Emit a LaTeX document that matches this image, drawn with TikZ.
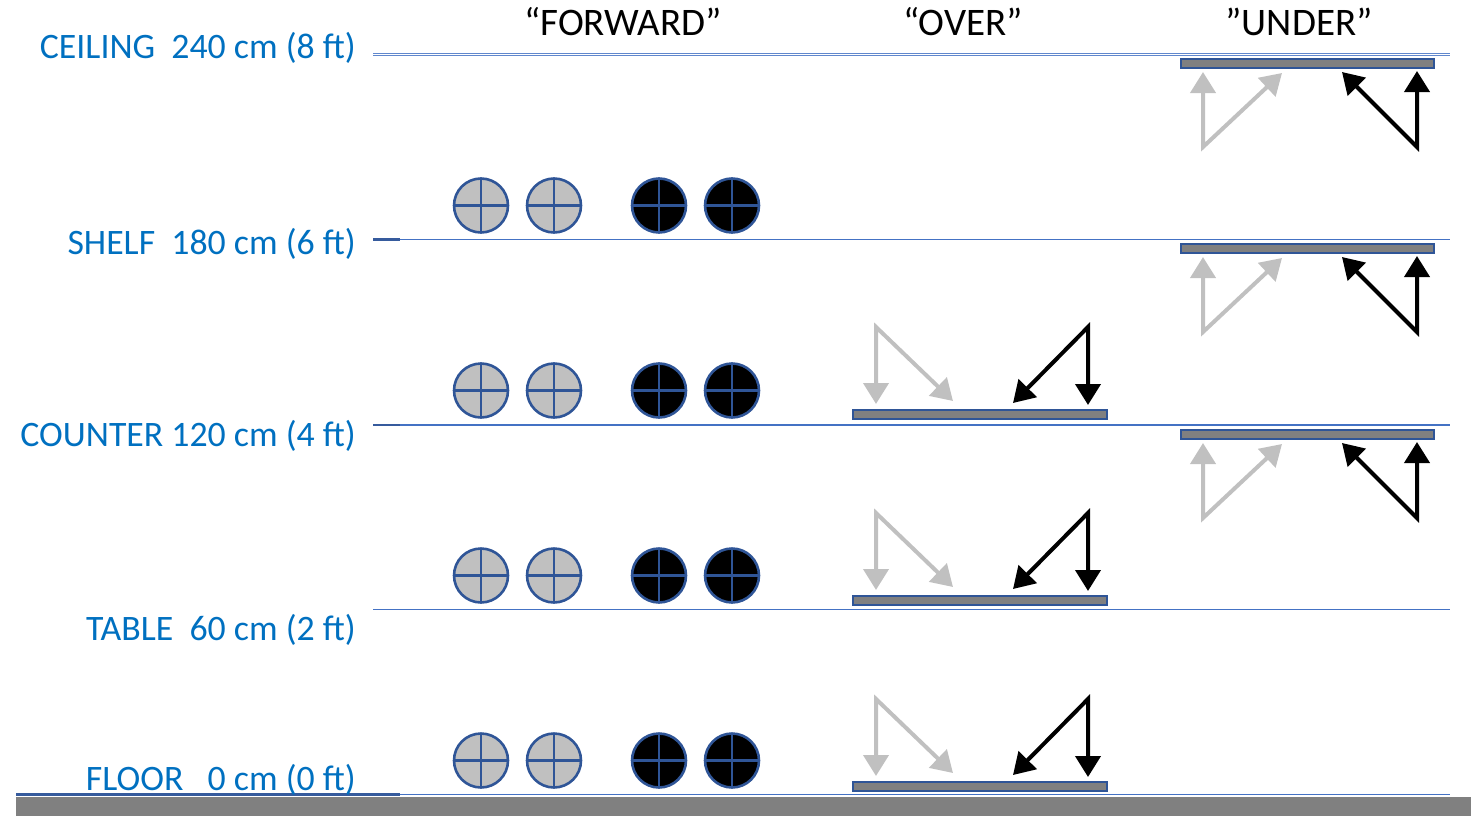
\documentclass[tikz,border=0pt]{standalone}
\usepackage{fontspec}
\setmainfont{Carlito}
\usetikzlibrary{arrows.meta}
\definecolor{lbl}{HTML}{0070C0}
\definecolor{lvl}{HTML}{4472C4}
\definecolor{edge}{HTML}{2F5597}
\definecolor{lgray}{HTML}{C0C0C0}
\definecolor{barfill}{HTML}{808080}
\tikzset{
  lbltext/.style={text=lbl, font=\fontsize{35.8}{40}\selectfont, anchor=base east, inner sep=0pt},
  head/.style={font=\fontsize{39}{42}\selectfont, anchor=base, inner sep=0pt},
  level/.style={draw=lvl, line width=1.6pt},
  stub/.style={draw=lvl!80!black, line width=2.2pt},
  disc/.style={circle, draw=edge, line width=2.6pt, minimum size=54pt, inner sep=0pt, outer sep=0pt},
  cross/.style={draw=edge, line width=2.6pt},
  plat/.style={draw=edge, fill=barfill, line width=2pt},
  garrow/.style={draw=lgray, line width=4pt, line join=miter, {Triangle[width=25pt,length=21pt]}-{Triangle[width=25pt,length=21pt]}},
  karrow/.style={draw=black, line width=4pt, line join=miter, {Triangle[width=25pt,length=21pt]}-{Triangle[width=25pt,length=21pt]}}
}
\begin{document}
\begin{tikzpicture}[x=1pt,y=-1pt]
\useasboundingbox (0,0) rectangle (1471,816);
% floor bar
\fill[barfill] (16,797) rectangle (1471,816);
% level lines
\coordinate (c1) at (373,53.3); \coordinate (c2) at (1450,53.3);
\coordinate (c3) at (373,55.7); \coordinate (c4) at (1450,55.7);
\draw[draw=lvl!85, line width=1.2pt] (c1) -- (c2);
\draw[draw=lvl!85, line width=1.2pt] (c3) -- (c4);
\foreach \n/\y in {shelf/239.5, counter/425, table/609.5}{
  \coordinate (\n L) at (373,\y); \coordinate (\n R) at (1450,\y);
  \coordinate (\n S) at (400,\y);
  \draw[level] (\n L) -- (\n R);
}
\draw[stub] (shelfL) -- (shelfS);
\draw[stub] (counterL) -- (counterS);
\coordinate (floorL) at (16,794.5); \coordinate (floorS) at (400,794.5); \coordinate (floorR) at (1450,794.5);
\draw[level] (floorL) -- (floorR);
\draw[stub] (floorL) -- (floorS);
% labels
\node[lbltext] (lceil) at (356,59) {CEILING\ \ 240 cm (8 ft)};
\node[lbltext] (lshelf) at (356,254.5) {SHELF\ \ 180 cm (6 ft)};
\node[lbltext] (lcount) at (356,446.5) {COUNTER 120 cm (4 ft)};
\node[lbltext] (ltable) at (356,640.5) {TABLE\ \ 60 cm (2 ft)};
\node[lbltext] (lfloor) at (356,790) {FLOOR\ \ \ 0 cm (0 ft)};
% headings
\node[head] (hfwd) at (623,36) {“FORWARD”};
\node[head] (hover) at (963,36) {“OVER”};
\node[head] (hunder) at (1299,36) {”UNDER”};
% discs
\foreach \r/\y in {1/205.5, 2/390.5, 3/575.5, 4/760.5}{
  \foreach \c/\x/\f in {a/481/lgray, b/554/lgray, c/659/black, d/732/black}{
    \node[disc, fill=\f] (d\r\c) at (\x,\y) {};
    \draw[cross] (d\r\c.north) -- (d\r\c.south);
    \draw[cross] (d\r\c.west) -- (d\r\c.east);
  }
}
% OVER platforms and arrows
\foreach \k/\dy in {1/0, 2/186, 3/372}{
  \node[plat, rectangle, minimum width=254pt, minimum height=9pt, inner sep=0pt, anchor=north west] (op\k) at (852,409+\dy) {};
  \coordinate (og\k t) at (876,327+\dy);
  \coordinate (og\k v) at (876,404+\dy);
  \coordinate (og\k d) at (953,401+\dy);
  \draw[garrow] (og\k v) -- (og\k t) -- (og\k d);
  \coordinate (ok\k t) at (1088,327+\dy);
  \coordinate (ok\k v) at (1088,405+\dy);
  \coordinate (ok\k d) at (1013,403+\dy);
  \draw[karrow] (ok\k v) -- (ok\k t) -- (ok\k d);
}
% UNDER platforms and arrows
\foreach \k/\dy in {1/0, 2/185, 3/371}{
  \node[plat, rectangle, minimum width=253pt, minimum height=9pt, inner sep=0pt, anchor=north west] (up\k) at (1180,58+\dy) {};
  \coordinate (ug\k b) at (1203,147+\dy);
  \coordinate (ug\k v) at (1203,72+\dy);
  \coordinate (ug\k d) at (1282,73+\dy);
  \draw[garrow] (ug\k v) -- (ug\k b) -- (ug\k d);
  \coordinate (uk\k b) at (1417,147+\dy);
  \coordinate (uk\k v) at (1417,71+\dy);
  \coordinate (uk\k d) at (1342,72+\dy);
  \draw[karrow] (uk\k v) -- (uk\k b) -- (uk\k d);
}
\end{tikzpicture}
\end{document}
